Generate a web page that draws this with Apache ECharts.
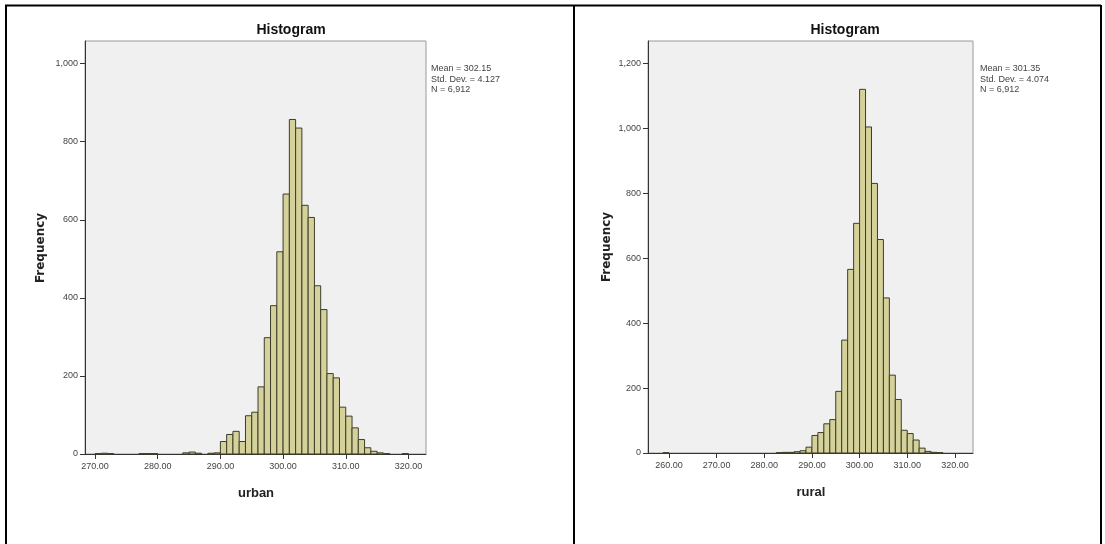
<!DOCTYPE html>
<html>
<head>
<meta charset="utf-8">
<script src="https://cdn.jsdelivr.net/npm/echarts@6/dist/echarts.min.js"></script>
<style>
html,body{margin:0;padding:0;background:#fff;}
#c{width:1105px;height:544px;}
</style>
</head>
<body>
<div id="c"></div>
<script>
// ---------- DATA ----------
// Urban histogram: bin start values (bin width 1) and frequencies
const urbanBinWidth = 1;
const urbanBinStart = [270,271,272,277,278,279,284,285,286,288,289,
  290,291,292,293,294,295,296,297,298,299,
  300,301,302,303,304,305,306,307,308,309,
  310,311,312,313,314,315,316,319];
const urbanCounts = [1,2,1,1,1,1,3,5,2,2,3,
  32,50,58,32,98,107,172,298,380,518,
  666,857,835,637,606,431,370,206,195,120,
  97,67,37,16,7,3,1,1];

// Rural histogram: bin start values (bin width 1.25) and frequencies
const ruralBinWidth = 1.25;
const ruralBinStart = [258.75,282.5,283.75,285,286.25,287.5,288.75,
  290,291.25,292.5,293.75,295,296.25,297.5,298.75,
  300,301.25,302.5,303.75,305,306.25,307.5,308.75,
  310,311.25,312.5,313.75,315,316.25];
const ruralCounts = [1,1,2,2,4,7,18,
  54,63,90,103,190,348,566,708,
  1121,1005,831,658,478,240,165,70,
  60,40,15,5,2,1];

// Axis ticks
const urbanXTicks = [270,280,290,300,310,320];
const ruralXTicks = [260,270,280,290,300,310,320];
const urbanYTicks = [0,200,400,600,800,1000];
const ruralYTicks = [0,200,400,600,800,1000,1200];

// Texts
const chartTitle = 'Histogram';
const urbanStats = ['Mean = 302.15', 'Std. Dev. = 4.127', 'N = 6,912'];
const ruralStats = ['Mean = 301.35', 'Std. Dev. = 4.074', 'N = 6,912'];

// ---------- CHART ----------
const FONT = '"Liberation Sans", Arial, sans-serif';
const chart = echarts.init(document.getElementById('c'), null, {renderer:'canvas'});

function barRenderer(binWidth){
  return function(params, api){
    const x0 = api.value(0), c = api.value(1);
    const p0 = api.coord([x0, c]);
    const p1 = api.coord([x0 + binWidth, 0]);
    return {
      type:'rect',
      shape:{x:p0[0], y:p0[1], width:p1[0]-p0[0], height:p1[1]-p0[1]},
      style:{fill:'#d5d19b', stroke:'#3d3d28', lineWidth:1}
    };
  };
}

function xAxisCfg(grid, min, max, ticks){
  return {
    type:'value', gridIndex:grid, min:min, max:max,
    splitLine:{show:false},
    axisLine:{onZero:false, lineStyle:{color:'#333', width:1}},
    axisTick:{customValues:ticks, length:5, lineStyle:{color:'#333'}},
    axisLabel:{customValues:ticks, formatter:v=>Number(v).toFixed(2),
      fontSize:9, color:'#444', margin:8, fontFamily:FONT}
  };
}
function yAxisCfg(grid, max, ticks){
  return {
    type:'value', gridIndex:grid, min:0, max:max,
    splitLine:{show:false},
    axisLine:{show:true, onZero:false, lineStyle:{color:'#333', width:1}},
    axisTick:{show:true, customValues:ticks, length:5, lineStyle:{color:'#333'}},
    axisLabel:{customValues:ticks, formatter:v=>Number(v).toLocaleString('en-US'),
      fontSize:9, color:'#444', margin:7, fontFamily:FONT}
  };
}

function statsText(x, y0, lines){
  return lines.map((t,i)=>({
    type:'text', x:x, y:y0 + i*10.5,
    style:{text:t, fontSize:9, fontFamily:FONT, fill:'#444', align:'left', verticalAlign:'middle'}
  }));
}

const frameColor = '#000';
const graphics = [
  {type:'line', shape:{x1:5, y1:5.5, x2:1101, y2:5.5}, style:{stroke:frameColor, lineWidth:2}},
  {type:'line', shape:{x1:6, y1:5, x2:6, y2:544}, style:{stroke:frameColor, lineWidth:2}},
  {type:'line', shape:{x1:574, y1:5, x2:574, y2:544}, style:{stroke:frameColor, lineWidth:2}},
  {type:'line', shape:{x1:1101, y1:5, x2:1101, y2:544}, style:{stroke:frameColor, lineWidth:2}},
  // titles
  {type:'text', x:291, y:30, style:{text:chartTitle, fontSize:14, fontWeight:'bold', fontFamily:FONT, fill:'#111', align:'center', verticalAlign:'middle'}},
  {type:'text', x:845, y:30, style:{text:chartTitle, fontSize:14, fontWeight:'bold', fontFamily:FONT, fill:'#111', align:'center', verticalAlign:'middle'}},
  // axis names
  {type:'text', x:41, y:248, rotation:Math.PI/2, style:{text:'Frequency', fontSize:12, fontWeight:'bold', fontFamily:'"DejaVu Sans", sans-serif', fill:'#222', align:'center', verticalAlign:'middle'}},
  {type:'text', x:607, y:247, rotation:Math.PI/2, style:{text:'Frequency', fontSize:12, fontWeight:'bold', fontFamily:'"DejaVu Sans", sans-serif', fill:'#222', align:'center', verticalAlign:'middle'}},
  {type:'text', x:256, y:493, style:{text:'urban', fontSize:13, fontWeight:'bold', fontFamily:FONT, fill:'#222', align:'center', verticalAlign:'middle'}},
  {type:'text', x:811, y:492, style:{text:'rural', fontSize:13, fontWeight:'bold', fontFamily:FONT, fill:'#222', align:'center', verticalAlign:'middle'}}
].concat(statsText(431, 69, urbanStats), statsText(980, 69, ruralStats));

chart.setOption({
  animation:false,
  backgroundColor:'#fff',
  grid:[
    {left:85, top:41, width:341, height:413, show:true, backgroundColor:'#f0f0f0', borderColor:'#9a9a9a', borderWidth:1},
    {left:648, top:41, width:325, height:412, show:true, backgroundColor:'#f0f0f0', borderColor:'#9a9a9a', borderWidth:1}
  ],
  xAxis:[
    xAxisCfg(0, 268.4, 322.8, urbanXTicks),
    xAxisCfg(1, 255.6, 323.8, ruralXTicks)
  ],
  yAxis:[
    yAxisCfg(0, 1058, urbanYTicks),
    yAxisCfg(1, 1270, ruralYTicks)
  ],
  series:[
    {type:'custom', xAxisIndex:0, yAxisIndex:0, renderItem:barRenderer(urbanBinWidth),
     encode:{x:0, y:1}, data:urbanBinStart.map((s,i)=>[s, urbanCounts[i]])},
    {type:'custom', xAxisIndex:1, yAxisIndex:1, renderItem:barRenderer(ruralBinWidth),
     encode:{x:0, y:1}, data:ruralBinStart.map((s,i)=>[s, ruralCounts[i]])}
  ],
  graphic:graphics
});
</script>
</body>
</html>
